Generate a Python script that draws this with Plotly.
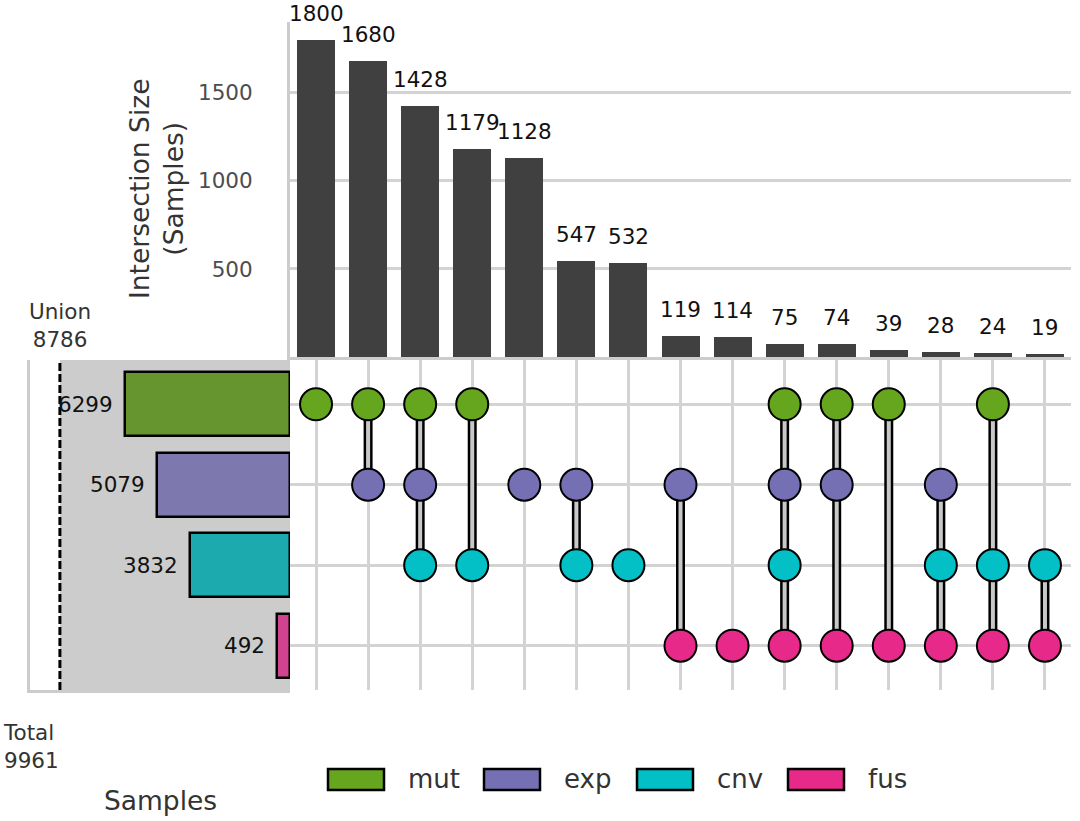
import plotly.graph_objects as go

# ---------------- data ----------------
sets = ["mut", "exp", "cnv", "fus"]
set_sizes = [6299, 5079, 3832, 492]
dot_colors = ["#66A61E", "#7570B3", "#03BFC6", "#E7298A"]
set_bar_colors = ["#66952F", "#7D78AD", "#1CAAAF", "#D0448F"]

intersections = [
    ["mut"], ["mut", "exp"], ["mut", "exp", "cnv"], ["mut", "cnv"], ["exp"],
    ["exp", "cnv"], ["cnv"], ["exp", "fus"], ["fus"], ["mut", "exp", "cnv", "fus"],
    ["mut", "exp", "fus"], ["mut", "fus"], ["exp", "cnv", "fus"], ["mut", "cnv", "fus"],
    ["cnv", "fus"],
]
inter_sizes = [1800, 1680, 1428, 1179, 1128, 547, 532, 119, 114, 75, 74, 39, 28, 24, 19]
union_total = 8786
grand_total = 9961

# ---------------- layout helpers ----------------
W, H = 1080, 821
FONT = "DejaVu Sans"


def px(x):
    return x / W


def py(y):
    return 1 - y / H


cols = list(range(len(inter_sizes)))
rows = {s: i for i, s in enumerate(sets)}

fig = go.Figure()

# intersection bars
fig.add_trace(go.Bar(x=cols, y=inter_sizes, width=0.73, marker=dict(color="#404040", line=dict(width=0)),
                     xaxis="x", yaxis="y", hoverinfo="x+y"))

# connectors
for c, members in zip(cols, intersections):
    r = [rows[m] for m in members]
    if len(r) > 1:
        fig.add_trace(go.Scatter(x=[c, c], y=[min(r), max(r)], mode="lines",
                                 line=dict(color="black", width=9), xaxis="x2", yaxis="y2",
                                 hoverinfo="skip"))
        fig.add_trace(go.Scatter(x=[c, c], y=[min(r), max(r)], mode="lines",
                                 line=dict(color="#c8c8c8", width=4), xaxis="x2", yaxis="y2",
                                 hoverinfo="skip"))

# dots
for s, col in zip(sets, dot_colors):
    xs = [c for c, m in zip(cols, intersections) if s in m]
    fig.add_trace(go.Scatter(x=xs, y=[rows[s]] * len(xs), mode="markers",
                             marker=dict(size=32, color=col, line=dict(color="black", width=2)),
                             xaxis="x2", yaxis="y2", name=s))

# set size bars
fig.add_trace(go.Bar(x=set_sizes, y=[rows[s] for s in sets], orientation="h", width=0.8,
                     marker=dict(color=set_bar_colors, line=dict(color="black", width=2.5)),
                     xaxis="x3", yaxis="y3"))

annotations = []
for c, v in zip(cols, inter_sizes):
    annotations.append(dict(x=c, y=v, xref="x", yref="y", text=str(v), showarrow=False,
                            xanchor="center", yanchor="bottom", yshift=12,
                            font=dict(size=21.5, color="#111111")))
for s, v in zip(sets, set_sizes):
    annotations.append(dict(x=v, y=rows[s], xref="x3", yref="y3", text=str(v), showarrow=False,
                            xanchor="right", yanchor="middle", xshift=-10,
                            font=dict(size=21.5, color="#111111")))

annotations += [
    dict(x=union_total, xref="x3", y=py(325), yref="paper", text=f"Union<br>{union_total}",
         showarrow=False, xanchor="center", yanchor="middle",
         font=dict(size=21.5, color="#333333"), align="center"),
    dict(x=px(1), xref="paper", y=py(746), yref="paper", text=f"Total<br>{grand_total}",
         showarrow=False, xanchor="left", yanchor="middle", align="left",
         font=dict(size=21.5, color="#333333")),
    dict(x=px(160), xref="paper", y=py(800), yref="paper", text="Samples", showarrow=False,
         xanchor="center", yanchor="middle", font=dict(size=26.5, color="#333333")),
    dict(x=px(157), xref="paper", y=py(189), yref="paper", text="Intersection Size<br>(Samples)",
         showarrow=False, xanchor="center", yanchor="middle", textangle=-90,
         font=dict(size=26.5, color="#333333")),
]

shapes = [
    dict(type="rect", xref="x3", yref="y3 domain", x0=0, x1=union_total, y0=0, y1=1,
         fillcolor="#cccccc", line=dict(width=0), layer="below"),
    dict(type="line", xref="x3", yref="y3 domain", x0=union_total, x1=union_total, y0=0, y1=1,
         line=dict(color="black", width=3, dash="8px,3px"), layer="above"),
]

# legend (drawn manually)
leg_x = [328, 484, 637, 788]
for s, col, x0 in zip(sets, dot_colors, leg_x):
    shapes.append(dict(type="rect", xref="paper", yref="paper", x0=px(x0), x1=px(x0 + 56),
                       y0=py(790), y1=py(769), fillcolor=col, line=dict(color="black", width=2.5)))
    annotations.append(dict(x=px(x0 + 78), xref="paper", y=py(779), yref="paper", text=s,
                            showarrow=False, xanchor="left", yanchor="middle",
                            font=dict(size=26, color="#333333")))

grid = "#d3d3d3"
fig.update_layout(
    width=W, height=H, margin=dict(l=0, r=0, t=0, b=0),
    paper_bgcolor="white", plot_bgcolor="white",
    showlegend=False, bargap=0,
    font=dict(family=FONT, color="#333333"),
    xaxis=dict(domain=[px(290), px(1071)], range=[-0.5, 14.5], anchor="y", showticklabels=False,
               showgrid=False, zeroline=False, ticks="", showline=True, linecolor="#cccccc",
               linewidth=3),
    yaxis=dict(domain=[py(357), py(22)], range=[0, 1903], tickvals=[500, 1000, 1500], anchor="x",
               showgrid=True, gridcolor=grid, gridwidth=2.5, zeroline=False, showline=True,
               linecolor="#cccccc", linewidth=3, ticks="", ticklabelstandoff=30,
               tickfont=dict(size=21.5, color="#4d4d4d")),
    xaxis2=dict(domain=[px(290), px(1071)], range=[-0.5, 14.5], anchor="y2", tickvals=cols,
                showticklabels=False, showgrid=True, gridcolor=grid, gridwidth=3, zeroline=False,
                ticks=""),
    yaxis2=dict(domain=[py(690), py(360)], range=[3.55, -0.55], anchor="x2", tickvals=[0, 1, 2, 3],
                showticklabels=False, showgrid=True, gridcolor=grid, gridwidth=3, zeroline=False,
                ticks=""),
    xaxis3=dict(domain=[px(30), px(290)], range=[9928, 0], anchor="y3", showticklabels=False,
                showgrid=False, zeroline=False, showline=True, linecolor="#cccccc", linewidth=3,
                ticks=""),
    yaxis3=dict(domain=[py(690), py(360)], range=[3.55, -0.55], anchor="x3", showticklabels=False,
                showgrid=False, zeroline=False, showline=True, linecolor="#cccccc", linewidth=3,
                ticks=""),
    annotations=annotations,
    shapes=shapes,
)

fig.write_html("out.html", config={"displayModeBar": False},
               post_script="document.body.style.margin='0';")
